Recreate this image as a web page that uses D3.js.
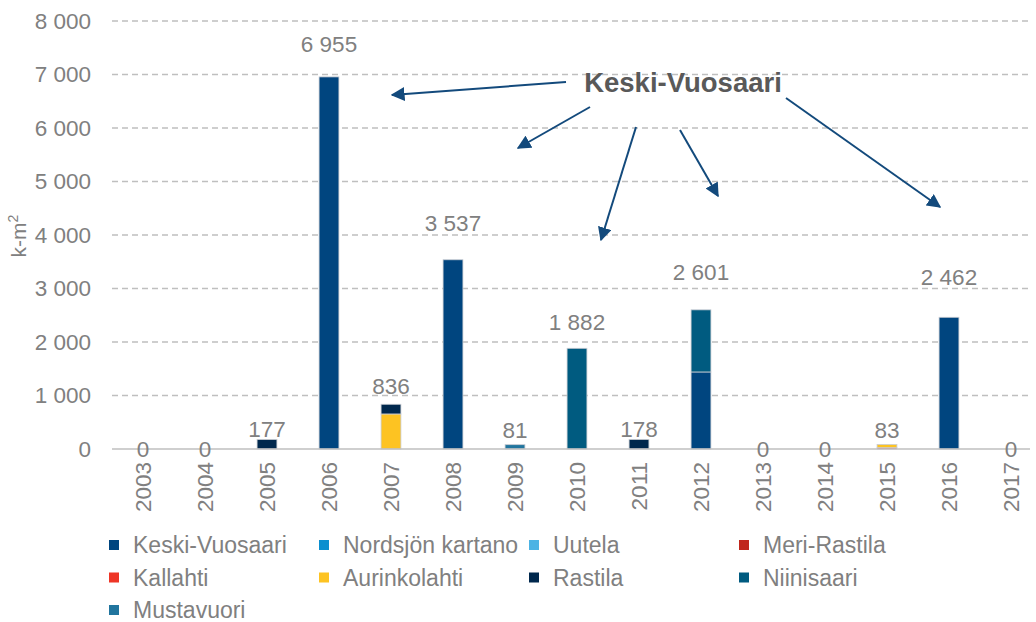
<!DOCTYPE html>
<html>
<head>
<meta charset="utf-8">
<script src="https://cdn.jsdelivr.net/npm/d3@7"></script>
<style>
  html, body { margin: 0; padding: 0; background: #fff; }
  svg { display: block; font-family: "Liberation Sans", Arial, sans-serif; }
</style>
</head>
<body>
<svg id="chart" width="1036" height="622"></svg>
<script>
// Years on the category axis
const years = ["2003","2004","2005","2006","2007","2008","2009","2010","2011","2012","2013","2014","2015","2016","2017"];

// Area series, in stacking order (k-m²)
const seriesNames = ["Keski-Vuosaari","Nordsjön kartano","Uutela","Meri-Rastila","Kallahti","Aurinkolahti","Rastila","Niinisaari","Mustavuori"];
const seriesColors = ["#00457f","#0b8fcf","#4cb3e4","#c0261c","#ee3526","#fdc322","#00284d","#005b80","#21759e"];

const keskiVuosaari   = [0,0,0,6955,0,3537,0,0,0,1440,0,0,0,2462,0];
const nordsjonKartano = [0,0,0,0,0,0,0,0,0,0,0,0,0,0,0];
const uutela          = [0,0,0,0,0,0,0,0,0,0,0,0,0,0,0];
const meriRastila     = [0,0,0,0,0,0,0,0,0,0,0,0,0,0,0];
const kallahti        = [0,0,0,0,0,0,0,0,0,0,0,0,25,0,0];
const aurinkolahti    = [0,0,0,0,655,0,0,0,0,0,0,0,58,0,0];
const rastila         = [0,0,177,0,181,0,0,0,178,0,0,0,0,0,0];
const niinisaari      = [0,0,0,0,0,0,0,1882,0,1161,0,0,0,0,0];
const mustavuori      = [0,0,0,0,0,0,81,0,0,0,0,0,0,0,0];

const seriesValues = [keskiVuosaari,nordsjonKartano,uutela,meriRastila,kallahti,aurinkolahti,rastila,niinisaari,mustavuori];

const yTicks = [0,1000,2000,3000,4000,5000,6000,7000,8000];

// Vertical lift of each total label above its bar (px)
const labelLift = [0,0,10,33,18,37,15,26,10,38,0,0,14,40,0];

const svg = d3.select("#chart");
const gray = "#808080";
const fmt = v => d3.format(",")(v).replace(/,/g, " ");

const x = d3.scaleBand().domain(years).range([112, 1042]).paddingInner(0.68).paddingOuter(0.34);
const y = d3.scaleLinear().domain([0, 8000]).range([449, 21]);
const xCenter = yr => x(yr) + x.bandwidth() / 2;

// Rows of stacking input
const rows = years.map((yr, i) => {
  const r = { year: yr };
  seriesNames.forEach((n, k) => { r[n] = seriesValues[k][i]; });
  return r;
});
const stacked = d3.stack().keys(seriesNames)(rows);
const totals = rows.map(r => d3.sum(seriesNames, n => r[n]));

// Gridlines
svg.append("g").selectAll("line")
  .data(yTicks.filter(t => t > 0))
  .join("line")
  .attr("x1", 112).attr("x2", 1030)
  .attr("y1", d => y(d)).attr("y2", d => y(d))
  .attr("stroke", "#bfbfbf").attr("stroke-width", 1.3)
  .attr("stroke-dasharray", "6,4");

// Y axis labels
const yAxis = d3.axisLeft(y).tickValues(yTicks).tickFormat(fmt).tickSize(0).tickPadding(0);
const gy = svg.append("g").attr("transform", "translate(91,0)").call(yAxis);
gy.select(".domain").remove();
gy.selectAll("text").attr("fill", gray).attr("font-size", 22.5)
  .attr("font-family", "'Liberation Sans', Arial, sans-serif");

// Y title
svg.append("text")
  .attr("transform", "translate(26,236) rotate(-90)")
  .attr("text-anchor", "middle")
  .attr("fill", gray).attr("font-size", 21)
  .html('k-m<tspan baseline-shift="super" font-size="14">2</tspan>');

// Bars
svg.append("g").selectAll("g")
  .data(stacked)
  .join("g")
  .attr("fill", (d, i) => seriesColors[i])
  .selectAll("rect")
  .data(d => d.filter(s => s[1] - s[0] > 0))
  .join("rect")
  .attr("x", d => x(d.data.year))
  .attr("width", x.bandwidth())
  .attr("y", d => y(d[1]))
  .attr("height", d => y(d[0]) - y(d[1]))
  .attr("stroke", "#c9ccd2").attr("stroke-width", 0.8);

// Zero line
svg.append("line")
  .attr("x1", 112).attr("x2", 1030)
  .attr("y1", y(0)).attr("y2", y(0))
  .attr("stroke", "#bfbfbf").attr("stroke-width", 1.5);

// X axis labels
const xAxis = d3.axisBottom(x).tickSize(0).tickPadding(0);
const gx = svg.append("g").attr("transform", `translate(0,${y(0)})`).call(xAxis);
gx.select(".domain").remove();
gx.selectAll("text")
  .attr("fill", gray).attr("font-size", 22.5)
  .attr("font-family", "'Liberation Sans', Arial, sans-serif")
  .attr("transform", "rotate(-90)")
  .attr("text-anchor", "end")
  .attr("dy", "0.36em")
  .attr("x", -13).attr("y", 0);

// Total labels
svg.append("g").selectAll("text")
  .data(totals)
  .join("text")
  .attr("x", (d, i) => xCenter(years[i]))
  .attr("y", (d, i) => y(d) - labelLift[i])
  .attr("dy", "0.35em")
  .attr("text-anchor", "middle")
  .attr("fill", gray).attr("font-size", 22.5)
  .text(d => fmt(d));

// Annotation with arrows
const arrowColor = "#134a7c";
const defs = svg.append("defs");
defs.append("marker")
  .attr("id", "arrowhead")
  .attr("viewBox", "0 0 10 10")
  .attr("refX", 9).attr("refY", 5)
  .attr("markerWidth", 7).attr("markerHeight", 7)
  .attr("orient", "auto")
  .append("path").attr("d", "M0,0 L10,5 L0,10 z").attr("fill", arrowColor);

const arrows = [
  [566, 82, 392, 95],
  [590, 107, 518, 148],
  [636, 127, 601, 240],
  [680, 130, 718, 196],
  [786, 98, 940, 207]
];
svg.append("g").selectAll("line")
  .data(arrows)
  .join("line")
  .attr("x1", d => d[0]).attr("y1", d => d[1])
  .attr("x2", d => d[2]).attr("y2", d => d[3])
  .attr("stroke", arrowColor).attr("stroke-width", 2)
  .attr("marker-end", "url(#arrowhead)");

svg.append("text")
  .attr("x", 683).attr("y", 82)
  .attr("dy", "0.36em")
  .attr("text-anchor", "middle")
  .attr("font-weight", "bold").attr("font-size", 27.5)
  .attr("fill", "#595959")
  .text("Keski-Vuosaari");

// Legend
const legend = svg.append("g").selectAll("g")
  .data(seriesNames)
  .join("g")
  .attr("transform", (d, i) => `translate(${109 + (i % 4) * 210},${545 + Math.floor(i / 4) * 32.5})`);
legend.append("rect")
  .attr("x", 0).attr("y", -5).attr("width", 10).attr("height", 10)
  .attr("fill", (d, i) => seriesColors[i]);
legend.append("text")
  .attr("x", 24).attr("dy", "0.36em")
  .attr("fill", gray).attr("font-size", 23)
  .text(d => d);
</script>
</body>
</html>
